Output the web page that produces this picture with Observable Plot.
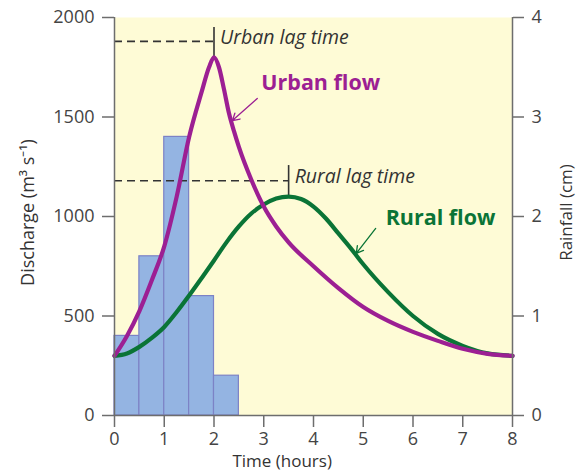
<!DOCTYPE html>
<html>
<head>
<meta charset="utf-8">
<script src="https://cdn.jsdelivr.net/npm/d3@7"></script>
<script src="https://cdn.jsdelivr.net/npm/@observablehq/plot@0.6"></script>
<style>
  html, body { margin: 0; padding: 0; background: #ffffff; }
  #chart svg { display: block; }
</style>
</head>
<body>
<div id="chart"></div>
<script>
// Rainfall bars (half-hour intervals)
const rainStart = [0, 0.5, 1, 1.5, 2];
const rainEnd = [0.5, 1, 1.5, 2, 2.5];
const rainfallCm = [0.8, 1.6, 2.8, 1.2, 0.4];

// Urban flow hydrograph
const urbanTime = [0, 0.25, 0.5, 0.75, 1, 1.25, 1.5, 1.75, 1.9, 2, 2.1, 2.2, 2.3, 2.4, 2.5, 2.75, 3, 3.25, 3.5, 4, 4.5, 5, 5.5, 6, 6.5, 7, 7.5, 8];
const urbanFlow = [300, 400, 525, 680, 850, 1100, 1400, 1625, 1750, 1800, 1750, 1640, 1520, 1430, 1350, 1185, 1050, 950, 870, 750, 640, 545, 475, 420, 375, 335, 310, 300];

// Rural flow hydrograph
const ruralTime = [0, 0.25, 0.5, 0.75, 1, 1.25, 1.5, 1.75, 2, 2.25, 2.5, 2.75, 3, 3.25, 3.5, 3.75, 4, 4.25, 4.5, 4.75, 5, 5.5, 6, 6.5, 7, 7.5, 8];
const ruralFlow = [300, 312, 345, 390, 445, 520, 603, 690, 779, 870, 950, 1015, 1060, 1090, 1100, 1088, 1050, 990, 915, 840, 760, 620, 500, 410, 350, 312, 300];

// Lag-time annotations
const lagNames = ["Urban lag time", "Rural lag time"];
const lagPeakTime = [2, 3.5];
const lagPeakFlow = [1800, 1100];
const lagLineLevel = [1880, 1180];
const lagTickTop = [1950, 1256];

// Axis ticks
const timeTicks = [0, 1, 2, 3, 4, 5, 6, 7, 8];
const dischargeTicks = [0, 500, 1000, 1500, 2000];
const rainTicks = [0, 1, 2, 3, 4];
const rainToDischarge = 500; // 4 cm <-> 2000 m3/s

const bars = rainStart.map((s, i) => ({x1: s, x2: rainEnd[i], rain: rainfallCm[i]}));
const urban = urbanTime.map((t, i) => ({t, q: urbanFlow[i]}));
const rural = ruralTime.map((t, i) => ({t, q: ruralFlow[i]}));
const lags = lagNames.map((name, i) => ({name, t: lagPeakTime[i], peak: lagPeakFlow[i], level: lagLineLevel[i], top: lagTickTop[i]}));

const purple = "#9c1f93";
const green = "#0a7436";
const axisGrey = "#6d6d6d";
const FONT = "'Open Sans', sans-serif";

const chart = Plot.plot({
  width: 581,
  height: 475,
  marginLeft: 114,
  marginRight: 69,
  marginTop: 17,
  marginBottom: 60,
  style: {fontFamily: FONT, fontSize: "18px", color: "#444", background: "#ffffff"},
  x: {domain: [0, 8]},
  y: {domain: [0, 2000]},
  marks: [
    Plot.frame({fill: "#fefbd6", stroke: null}),
    Plot.rect(bars, {x1: "x1", x2: "x2", y1: 0, y2: d => d.rain * rainToDischarge, fill: "#94b4e2", stroke: "#7c82c6", strokeWidth: 1.2}),
    // lag dashed lines
    Plot.ruleY(lags, {y: "level", x1: 0, x2: "t", stroke: "#333", strokeWidth: 1.6, strokeDasharray: "8,5"}),
    Plot.ruleX(lags, {x: "t", y1: "peak", y2: "top", stroke: "#333", strokeWidth: 1.6}),
    Plot.text(lags, {x: "t", y: d => d.level + 18, text: "name", textAnchor: "start", dx: 6, fontStyle: "italic", fontSize: 19.5, fill: "#333"}),
    // curves
    Plot.line(rural, {x: "t", y: "q", stroke: green, strokeWidth: 4.2, curve: "monotone-x"}),
    Plot.line(urban, {x: "t", y: "q", stroke: purple, strokeWidth: 4.2, curve: "monotone-x"}),
    // labels and arrows
    Plot.text(["Urban flow"], {x: 2.95, y: 1668, text: d => d, textAnchor: "start", fontWeight: "bold", fontSize: 21.5, fill: purple}),
    Plot.arrow([{x1: 2.87, y1: 1593, x2: 2.37, y2: 1482}], {x1: "x1", y1: "y1", x2: "x2", y2: "y2", stroke: purple, strokeWidth: 1.3, headLength: 9}),
    Plot.text(["Rural flow"], {x: 5.45, y: 990, text: d => d, textAnchor: "start", fontWeight: "bold", fontSize: 21.5, fill: green}),
    Plot.arrow([{x1: 5.25, y1: 940, x2: 4.86, y2: 815}], {x1: "x1", y1: "y1", x2: "x2", y2: "y2", stroke: green, strokeWidth: 1.3, headLength: 9}),
    // axis lines
    Plot.ruleX([0, 8], {y1: 0, y2: 2000, stroke: axisGrey, strokeWidth: 1.5}),
    Plot.ruleY([0], {x1: 0, x2: 8, stroke: axisGrey, strokeWidth: 1.5}),
    // axes
    Plot.axisX({ticks: timeTicks, tickFormat: d => String(d), tickSize: 12, tickPadding: 5, stroke: axisGrey, strokeWidth: 1.5, label: null, fill: "#444", fontSize: 18}),
    Plot.axisY({ticks: dischargeTicks, tickFormat: d => String(d), tickSize: 12, tickPadding: 8, stroke: axisGrey, strokeWidth: 1.5, label: null, fill: "#444", fontSize: 18}),
    Plot.axisY({anchor: "right", ticks: rainTicks.map(r => r * rainToDischarge), tickFormat: d => String(d / rainToDischarge), tickSize: 11, tickPadding: 8, stroke: axisGrey, strokeWidth: 1.5, label: null, fill: "#444", fontSize: 18}),
    // axis titles
    Plot.text(["Time (hours)"], {x: 3.37, frameAnchor: "bottom", dy: 51, text: d => d, fontSize: 17, fill: "#333"}),
    Plot.text(["Discharge (m³ s⁻¹)"], {frameAnchor: "left", textAnchor: "middle", dx: -86, dy: -4, rotate: -90, text: d => d, fontSize: 18, fill: "#333"}),
    Plot.text(["Rainfall (cm)"], {frameAnchor: "right", textAnchor: "middle", dx: 54, dy: -4, rotate: -90, text: d => d, fontSize: 17, fill: "#333"})
  ]
});
document.getElementById("chart").appendChild(chart);
</script>
</body>
</html>
